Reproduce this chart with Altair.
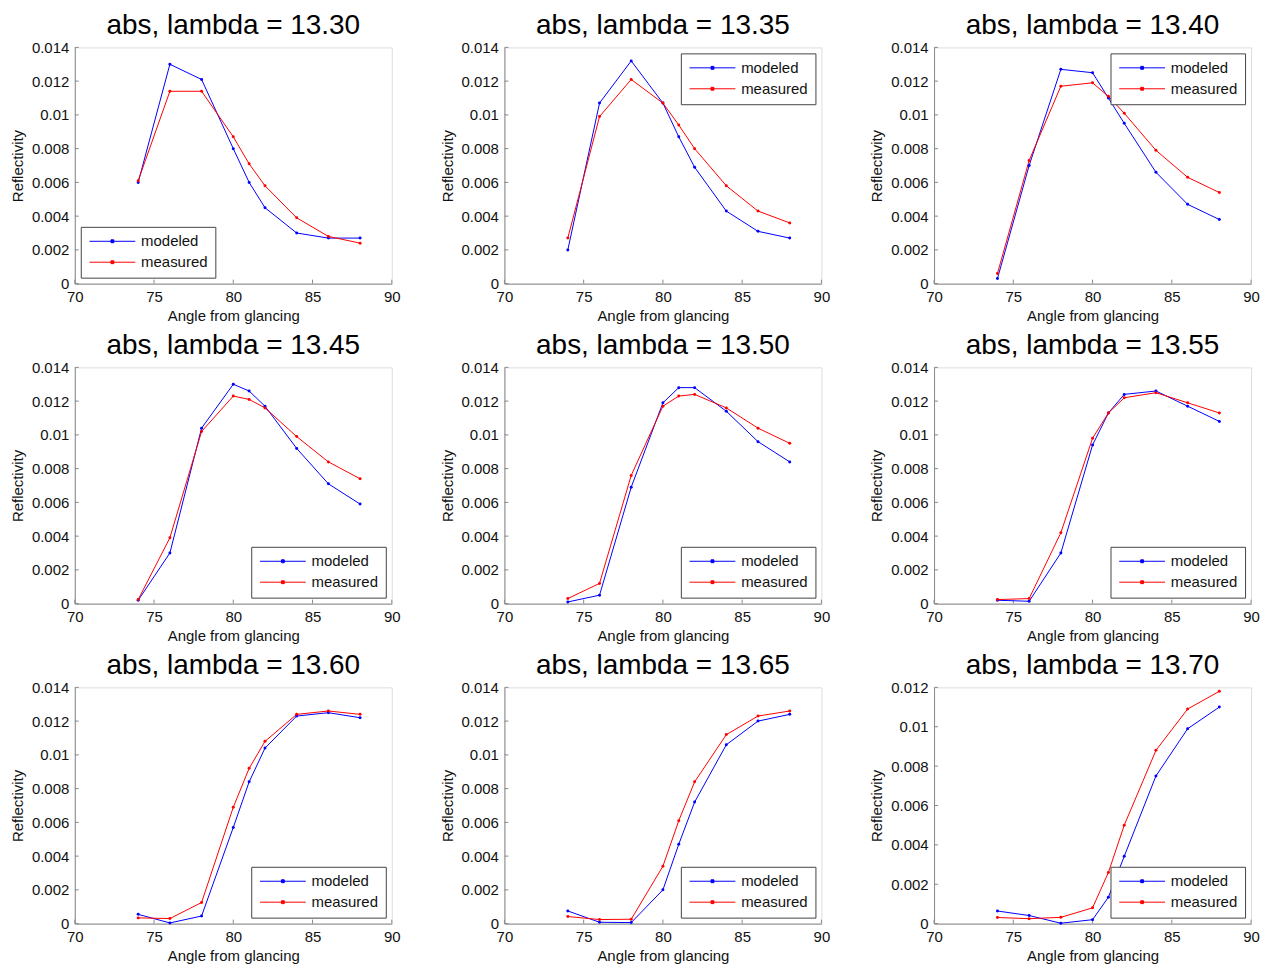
import altair as alt
import pandas as pd

angles = [74, 76, 78, 80, 81, 82, 84, 86, 88]
lambdas = ["13.30", "13.35", "13.40", "13.45", "13.50", "13.55", "13.60", "13.65", "13.70"]
series_names = ["modeled", "measured"]
series_colors = ["#0000ff", "#ff0000"]

modeled = [
    [0.0060, 0.0130, 0.0121, 0.0080, 0.0060, 0.0045, 0.0030, 0.0027, 0.0027],
    [0.0020, 0.0107, 0.0132, 0.0107, 0.0087, 0.0069, 0.0043, 0.0031, 0.0027],
    [0.0003, 0.0070, 0.0127, 0.0125, 0.0110, 0.0095, 0.0066, 0.0047, 0.0038],
    [0.0002, 0.0030, 0.0104, 0.0130, 0.0126, 0.0117, 0.0092, 0.0071, 0.0059],
    [0.0001, 0.0005, 0.0069, 0.0119, 0.0128, 0.0128, 0.0114, 0.0096, 0.0084],
    [0.0002, 0.00014, 0.0030, 0.0094, 0.0113, 0.0124, 0.0126, 0.0117, 0.0108],
    [0.00055, 0.00004, 0.00045, 0.0057, 0.0084, 0.0104, 0.0123, 0.0125, 0.0122],
    [0.00075, 0.00008, 0.00006, 0.0020, 0.0047, 0.0072, 0.0106, 0.0120, 0.0124],
    [0.00064, 0.00041, 0.00002, 0.0002, 0.00134, 0.00342, 0.0075, 0.0099, 0.0110],
]
measured = [
    [0.0061, 0.0114, 0.0114, 0.0087, 0.0071, 0.0058, 0.0039, 0.0028, 0.0024],
    [0.0027, 0.0099, 0.0121, 0.0107, 0.0094, 0.0080, 0.0058, 0.0043, 0.0036],
    [0.0006, 0.0073, 0.0117, 0.0119, 0.0111, 0.0101, 0.0079, 0.0063, 0.0054],
    [0.00024, 0.0039, 0.0102, 0.0123, 0.0121, 0.0116, 0.0099, 0.0084, 0.0074],
    [0.0003, 0.0012, 0.0076, 0.0117, 0.0123, 0.0124, 0.0116, 0.0104, 0.0095],
    [0.00024, 0.0003, 0.0042, 0.0098, 0.0113, 0.0122, 0.0125, 0.0119, 0.0113],
    [0.00034, 0.0003, 0.00125, 0.0069, 0.0092, 0.0108, 0.0124, 0.0126, 0.0124],
    [0.00042, 0.00024, 0.00026, 0.0034, 0.0061, 0.0084, 0.0112, 0.0123, 0.0126],
    [0.00031, 0.00025, 0.00032, 0.0008, 0.0026, 0.0050, 0.0088, 0.0109, 0.0118],
]
y_max = [0.014, 0.014, 0.014, 0.014, 0.014, 0.014, 0.014, 0.014, 0.012]
legend_orients = ["bottom-left", "top-right", "top-right",
                  "bottom-right", "bottom-right", "bottom-right",
                  "bottom-right", "bottom-right", "bottom-right"]
x_ticks = [70, 75, 80, 85, 90]

W, H = 318, 237
FONT = "Liberation Sans"
AXIS_GRAY = "#8a8a8a"
# legend symbol: a line with a small square dot in its middle
LEGEND_SYMBOL = "M-1,0H7M2.75,-0.25H3.25V0.25H2.75Z"


def panel(i):
    ymax = y_max[i]
    y_ticks = [round(k * 0.002, 3) for k in range(int(round(ymax / 0.002)) + 1)]
    rows = []
    for name, vals in zip(series_names, [modeled[i], measured[i]]):
        for a, v in zip(angles, vals):
            rows.append({"angle": a, "value": v, "series": name})
    df = pd.DataFrame(rows)

    xscale = alt.Scale(domain=[70, 90], nice=False, zero=False)
    yscale = alt.Scale(domain=[0, ymax], nice=False)
    xaxis = alt.Axis(values=x_ticks, format="d", ticks=False, grid=False,
                     domainColor=AXIS_GRAY, labelFontSize=15, labelColor="#111",
                     labelFont=FONT, labelPadding=6, title="Angle from glancing",
                     titleFont=FONT, titleFontSize=15, titleFontWeight="normal",
                     titleColor="#111", titlePadding=4, labelFlush=False)
    yaxis = alt.Axis(values=y_ticks, format="~g", ticks=False, grid=False,
                     domainColor=AXIS_GRAY, labelFontSize=15, labelColor="#111",
                     labelFont=FONT, labelPadding=6, title="Reflectivity",
                     titleFont=FONT, titleFontSize=15, titleFontWeight="normal",
                     titleColor="#111", titlePadding=6, labelFlush=False)
    X = alt.X("angle:Q", scale=xscale, axis=xaxis)
    Y = alt.Y("value:Q", scale=yscale, axis=yaxis)
    color = alt.Color(
        "series:N",
        scale=alt.Scale(domain=series_names, range=series_colors),
        legend=alt.Legend(
            title=None, orient=legend_orients[i], offset=6,
            fillColor="white", strokeColor="#444", padding=7,
            labelFont=FONT, labelFontSize=15, labelColor="#111",
            symbolType=LEGEND_SYMBOL, symbolSize=132, symbolStrokeWidth=1,
            labelOffset=38.5, rowPadding=5,
        ),
    )
    base = alt.Chart(df)
    lines = base.mark_line(strokeWidth=1).encode(x=X, y=Y, color=color)
    pts = base.mark_point(filled=True, size=9, opacity=1).encode(x=X, y=Y, color=color)

    xt = pd.DataFrame({"angle": x_ticks})
    xtick_rules = alt.Chart(xt).mark_rule(color=AXIS_GRAY, strokeWidth=1).encode(
        x=X, y=alt.value(H), y2=alt.value(H - 4))
    yt = pd.DataFrame({"value": y_ticks})
    ytick_rules = alt.Chart(yt).mark_rule(color=AXIS_GRAY, strokeWidth=1).encode(
        y=Y, x=alt.value(0), x2=alt.value(4))

    return alt.layer(xtick_rules, ytick_rules, lines, pts).properties(
        width=W, height=H,
        title=alt.Title(f"abs, lambda = {lambdas[i]}", font=FONT, fontSize=28,
                        fontWeight="normal", color="#000", offset=0, anchor="middle"),
    )


panels = [panel(i) for i in range(9)]
chart = alt.concat(*panels, columns=3, spacing={"row": 84, "column": 113}).properties(
    bounds="flush",
    padding={"left": 1, "top": 2, "right": 5, "bottom": 2},
).resolve_scale(color="independent", x="independent", y="independent").resolve_legend(
    color="independent"
).configure_view(stroke=None).configure(background="white")

chart.save("out.html", embed_options={"renderer": "svg", "actions": False})
